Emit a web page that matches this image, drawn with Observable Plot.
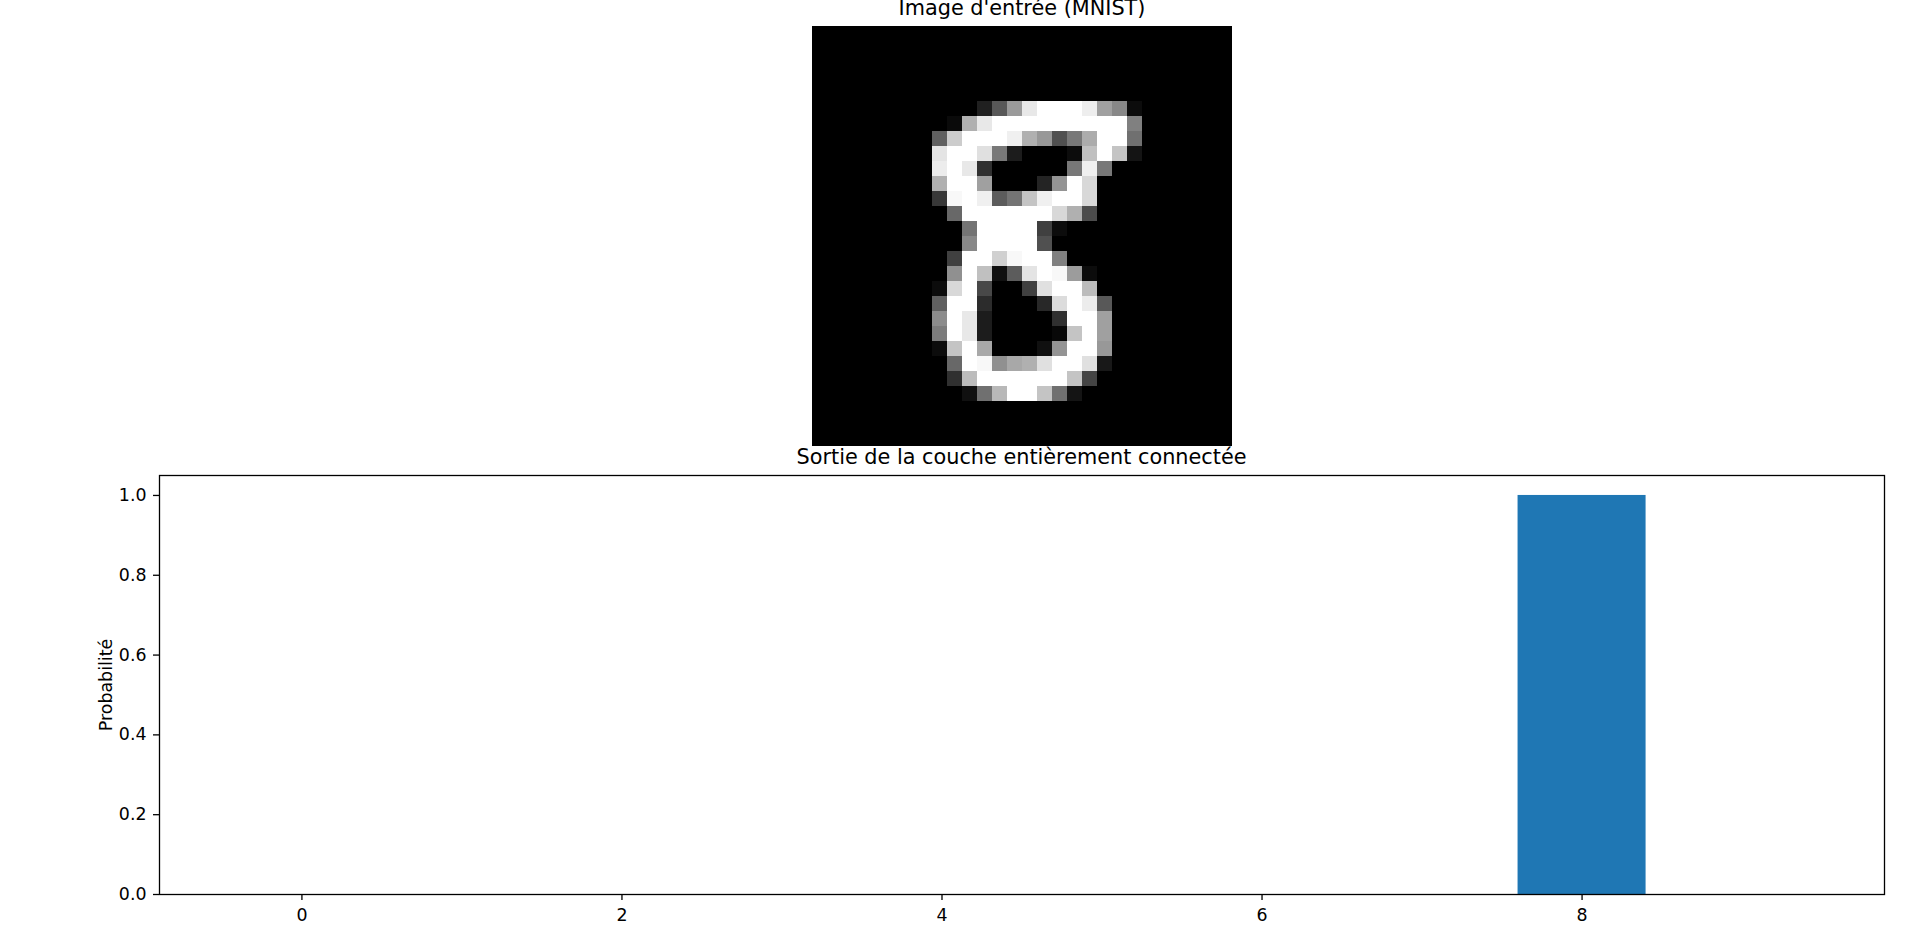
<!DOCTYPE html>
<html>
<head>
<meta charset="utf-8">
<script src="https://cdn.jsdelivr.net/npm/d3@7"></script>
<script src="https://cdn.jsdelivr.net/npm/@observablehq/plot@0.6"></script>
<style>
  html, body { margin: 0; padding: 0; background: #fff; }
  #wrap { position: relative; width: 1919px; height: 932px; overflow: hidden; font-family: "DejaVu Sans", sans-serif; color: #000; }
  #wrap > div.part { position: absolute; }
  .title { position: absolute; font-size: 20.8px; line-height: 20.8px; white-space: nowrap; transform: translateX(-50%); }
</style>
</head>
<body>
<div id="wrap">
  <div class="part" id="img" style="left:812px; top:26px;"></div>
  <div class="part" id="bars" style="left:0px; top:446px;"></div>
  <div class="title" style="left:1022px; top:-1.6px;">Image d'entrée (MNIST)</div>
  <div class="title" style="left:1021.5px; top:447.4px;">Sortie de la couche entièrement connectée</div>
</div>
<script>
// ---- Data ----
const imageTitle = "Image d'entrée (MNIST)";
const barTitle = "Sortie de la couche entièrement connectée";
const yLabel = "Probabilité";

// 28x28 grayscale pixel values (0-255), row by row
const pixelRows = [
  [0,0,0,0,0,0,0,0,0,0,0,0,0,0,0,0,0,0,0,0,0,0,0,0,0,0,0,0],
  [0,0,0,0,0,0,0,0,0,0,0,0,0,0,0,0,0,0,0,0,0,0,0,0,0,0,0,0],
  [0,0,0,0,0,0,0,0,0,0,0,0,0,0,0,0,0,0,0,0,0,0,0,0,0,0,0,0],
  [0,0,0,0,0,0,0,0,0,0,0,0,0,0,0,0,0,0,0,0,0,0,0,0,0,0,0,0],
  [0,0,0,0,0,0,0,0,0,0,0,0,0,0,0,0,0,0,0,0,0,0,0,0,0,0,0,0],
  [0,0,0,0,0,0,0,0, 0,0,0,32,88,154,232,255,255,255,238,160,136,12, 0,0,0,0,0,0],
  [0,0,0,0,0,0,0,0, 0,10,176,232,255,255,255,255,255,255,255,255,255,128, 0,0,0,0,0,0],
  [0,0,0,0,0,0,0,0, 96,204,255,255,255,240,176,152,80,120,172,255,255,112, 0,0,0,0,0,0],
  [0,0,0,0,0,0,0,0, 228,255,255,224,120,28,0,0,0,12,192,255,196,20, 0,0,0,0,0,0],
  [0,0,0,0,0,0,0,0, 236,255,232,48,0,0,0,0,0,120,240,120,0,0, 0,0,0,0,0,0],
  [0,0,0,0,0,0,0,0, 176,255,255,160,0,0,0,36,148,255,216,0,0,0, 0,0,0,0,0,0],
  [0,0,0,0,0,0,0,0, 56,248,255,240,92,116,196,240,255,255,216,0,0,0, 0,0,0,0,0,0],
  [0,0,0,0,0,0,0,0, 0,104,255,255,255,255,255,255,216,176,76,0,0,0, 0,0,0,0,0,0],
  [0,0,0,0,0,0,0,0, 0,0,116,255,255,255,255,64,12,0,0,0,0,0, 0,0,0,0,0,0],
  [0,0,0,0,0,0,0,0, 0,0,136,255,255,255,255,80,0,0,0,0,0,0, 0,0,0,0,0,0],
  [0,0,0,0,0,0,0,0, 0,64,255,255,208,248,255,255,128,0,0,0,0,0, 0,0,0,0,0,0],
  [0,0,0,0,0,0,0,0, 0,144,255,192,16,92,228,255,248,156,12,0,0,0, 0,0,0,0,0,0],
  [0,0,0,0,0,0,0,0, 12,216,255,72,0,0,64,224,255,255,188,0,0,0, 0,0,0,0,0,0],
  [0,0,0,0,0,0,0,0, 96,255,255,44,0,0,0,40,220,255,236,88,0,0, 0,0,0,0,0,0],
  [0,0,0,0,0,0,0,0, 140,255,232,28,0,0,0,0,48,255,255,160,0,0, 0,0,0,0,0,0],
  [0,0,0,0,0,0,0,0, 124,255,232,28,0,0,0,0,8,196,255,160,0,0, 0,0,0,0,0,0],
  [0,0,0,0,0,0,0,0, 12,196,255,168,0,0,0,16,148,255,255,152,0,0, 0,0,0,0,0,0],
  [0,0,0,0,0,0,0,0, 0,104,255,248,144,168,176,224,255,255,224,24,0,0, 0,0,0,0,0,0],
  [0,0,0,0,0,0,0,0, 0,48,188,255,255,255,255,255,255,196,68,0,0,0, 0,0,0,0,0,0],
  [0,0,0,0,0,0,0,0, 0,0,16,112,184,255,255,196,112,20,0,0,0,0, 0,0,0,0,0,0],
  [0,0,0,0,0,0,0,0,0,0,0,0,0,0,0,0,0,0,0,0,0,0,0,0,0,0,0,0],
  [0,0,0,0,0,0,0,0,0,0,0,0,0,0,0,0,0,0,0,0,0,0,0,0,0,0,0,0],
  [0,0,0,0,0,0,0,0,0,0,0,0,0,0,0,0,0,0,0,0,0,0,0,0,0,0,0,0]
];

const classes = [0, 1, 2, 3, 4, 5, 6, 7, 8, 9];
const probabilities = [0, 0, 0, 0, 0, 0, 0, 0, 1.0, 0];
const xTicks = [0, 2, 4, 6, 8];
const yTicks = [0, 0.2, 0.4, 0.6, 0.8, 1.0];
const barColor = "#1f77b4";
const barWidth = 0.8;

// ---- Image (imshow-like) ----
const pixels = [];
pixelRows.forEach((row, r) => row.forEach((v, c) => pixels.push({row: r, col: c, value: v})));

const imgPlot = Plot.plot({
  width: 420,
  height: 420,
  margin: 0,
  x: {type: "band", domain: d3.range(28), padding: 0, axis: null},
  y: {type: "band", domain: d3.range(28), padding: 0, axis: null},
  color: {type: "linear", domain: [0, 255], range: ["#000000", "#ffffff"], interpolate: "rgb"},
  marks: [
    Plot.frame({fill: "#000"}),
    Plot.cell(pixels, {x: "col", y: "row", fill: "value", inset: 0})
  ]
});
document.getElementById("img").appendChild(imgPlot);

// ---- Bar chart ----
const barData = classes.map((c, i) => ({cls: c, p: probabilities[i]}));

const barPlot = Plot.plot({
  width: 1919,
  height: 486,
  marginTop: 29,
  marginBottom: 38,
  marginLeft: 159,
  marginRight: 35,
  style: {fontFamily: "DejaVu Sans, sans-serif", fontSize: "17.4px", color: "#000", background: "transparent"},
  x: {domain: [-0.89, 9.89]},
  y: {domain: [0, 1.05]},
  marks: [
    Plot.rectY(barData, {x1: d => d.cls - barWidth / 2, x2: d => d.cls + barWidth / 2, y: "p", fill: barColor}),
    Plot.frame({stroke: "#000", strokeWidth: 1.3}),
    Plot.axisX({ticks: xTicks, tickSize: 6, tickPadding: 8, strokeWidth: 1.3, tickFormat: d => String(d), label: null, fontSize: 17.4}),
    Plot.axisY({ticks: yTicks, tickSize: 6, tickPadding: 7, strokeWidth: 1.3, tickFormat: d3.format(".1f"), label: null, fontSize: 17.4}),
    Plot.text([yLabel], {frameAnchor: "left", rotate: -90, dx: -53, fontSize: 17.4, textAnchor: "middle", fill: "#000"})
  ]
});
document.getElementById("bars").appendChild(barPlot);
</script>
</body>
</html>
